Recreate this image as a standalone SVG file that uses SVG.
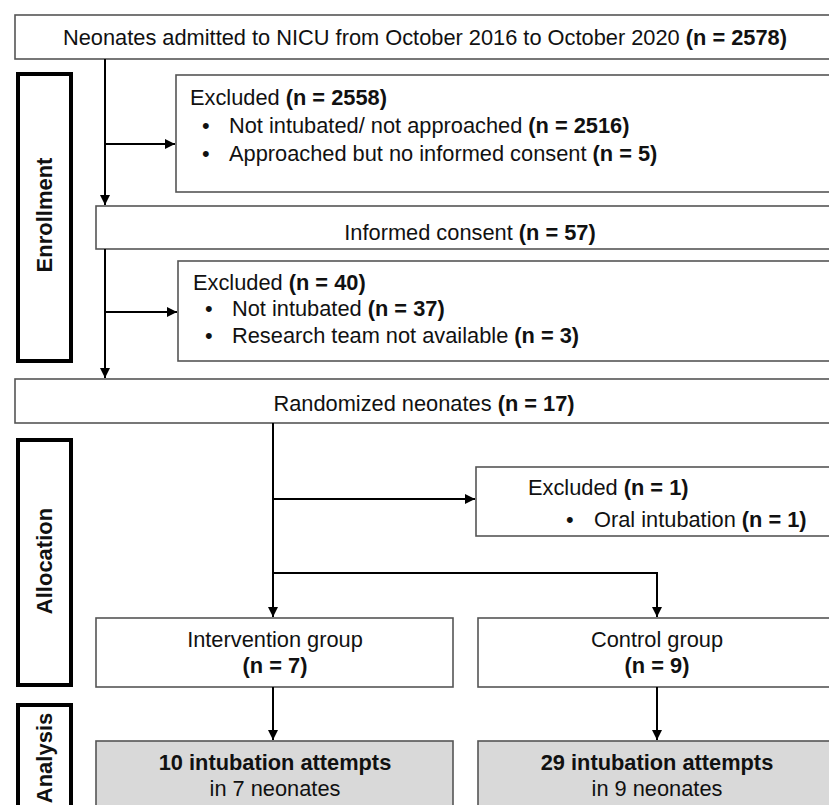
<svg xmlns="http://www.w3.org/2000/svg" width="829" height="805" viewBox="0 0 829 805">
<style>
text{font-family:"Liberation Sans",Arial,sans-serif;font-size:21.8px;fill:#111}
.b{font-weight:bold}
.box{fill:#fff;stroke:#555;stroke-width:1.6}
.gray{fill:#d9d9d9;stroke:#555;stroke-width:1.6}
.side{fill:#fff;stroke:#000;stroke-width:4}
.side-t{font-weight:bold;font-size:22px;text-anchor:middle}
.c{text-anchor:middle}
.ln{fill:none;stroke:#000;stroke-width:2}
</style>
<defs>
<marker id="ah" viewBox="0 0 10 10" refX="10" refY="5" markerWidth="10" markerHeight="10" markerUnits="userSpaceOnUse" orient="auto">
<path d="M0,0 L10,5 L0,10 z" fill="#000"/>
</marker>
</defs>

<g id="side-enrollment">
<rect class="side" x="18" y="74" width="53" height="287"/>
<text class="side-t" transform="translate(52,215) rotate(-90)">Enrollment</text>
</g>
<g id="side-allocation">
<rect class="side" x="18" y="440" width="53" height="245"/>
<text class="side-t" transform="translate(52,561) rotate(-90)">Allocation</text>
</g>
<g id="side-analysis">
<rect class="side" x="18" y="705" width="53" height="120"/>
<text class="side-t" transform="translate(52,758) rotate(-90)">Analysis</text>
</g>

<g id="n-admitted">
<rect class="box" x="15" y="15" width="830" height="44"/>
<text x="63" y="45">Neonates admitted to NICU from October 2016 to October 2020 <tspan class="b">(n = 2578)</tspan></text>
</g>
<g id="n-excluded1">
<rect class="box" x="176" y="75" width="670" height="117"/>
<text x="190" y="105">Excluded <tspan class="b">(n = 2558)</tspan></text>
<text x="202" y="133">•</text>
<text x="229" y="133">Not intubated/ not approached <tspan class="b">(n = 2516)</tspan></text>
<text x="202" y="161">•</text>
<text x="229" y="161">Approached but no informed consent <tspan class="b">(n = 5)</tspan></text>
</g>
<g id="n-consent">
<rect class="box" x="96" y="206" width="750" height="43"/>
<text class="c" x="470" y="240">Informed consent <tspan class="b">(n = 57)</tspan></text>
</g>
<g id="n-excluded2">
<rect class="box" x="178" y="261" width="670" height="100"/>
<text x="193" y="290">Excluded <tspan class="b">(n = 40)</tspan></text>
<text x="205" y="316">•</text>
<text x="232" y="316">Not intubated <tspan class="b">(n = 37)</tspan></text>
<text x="205" y="343">•</text>
<text x="232" y="343">Research team not available <tspan class="b">(n = 3)</tspan></text>
</g>
<g id="n-randomized">
<rect class="box" x="15" y="379" width="830" height="44"/>
<text class="c" x="424" y="411">Randomized neonates <tspan class="b">(n = 17)</tspan></text>
</g>
<g id="n-excluded3">
<rect class="box" x="476" y="467" width="370" height="69"/>
<text x="528" y="495">Excluded <tspan class="b">(n = 1)</tspan></text>
<text x="566" y="527">•</text>
<text x="594" y="527">Oral intubation <tspan class="b">(n = 1)</tspan></text>
</g>
<g id="n-intervention">
<rect class="box" x="96" y="618" width="357" height="69"/>
<text class="c" x="275" y="647">Intervention group</text>
<text class="c b" x="275" y="673">(n = 7)</text>
</g>
<g id="n-control">
<rect class="box" x="478" y="618" width="370" height="69"/>
<text class="c" x="657" y="647">Control group</text>
<text class="c b" x="657" y="673">(n = 9)</text>
</g>
<g id="n-attempts-int">
<rect class="gray" x="96" y="741" width="357" height="80"/>
<text class="c b" x="275" y="770">10 intubation attempts</text>
<text class="c" x="275" y="796">in 7 neonates</text>
</g>
<g id="n-attempts-ctl">
<rect class="gray" x="478" y="741" width="370" height="80"/>
<text class="c b" x="657" y="770">29 intubation attempts</text>
<text class="c" x="657" y="796">in 9 neonates</text>
</g>

<g id="connectors">
<path class="ln" d="M105,59 V205" marker-end="url(#ah)"/>
<path class="ln" d="M105,144 H175" marker-end="url(#ah)"/>
<path class="ln" d="M105,249 V378" marker-end="url(#ah)"/>
<path class="ln" d="M105,312 H177" marker-end="url(#ah)"/>
<path class="ln" d="M273,423 V617" marker-end="url(#ah)"/>
<path class="ln" d="M273,499 H475" marker-end="url(#ah)"/>
<path class="ln" d="M273,573 H657 V617" marker-end="url(#ah)"/>
<path class="ln" d="M273,687 V740" marker-end="url(#ah)"/>
<path class="ln" d="M657,687 V740" marker-end="url(#ah)"/>
</g>
</svg>
